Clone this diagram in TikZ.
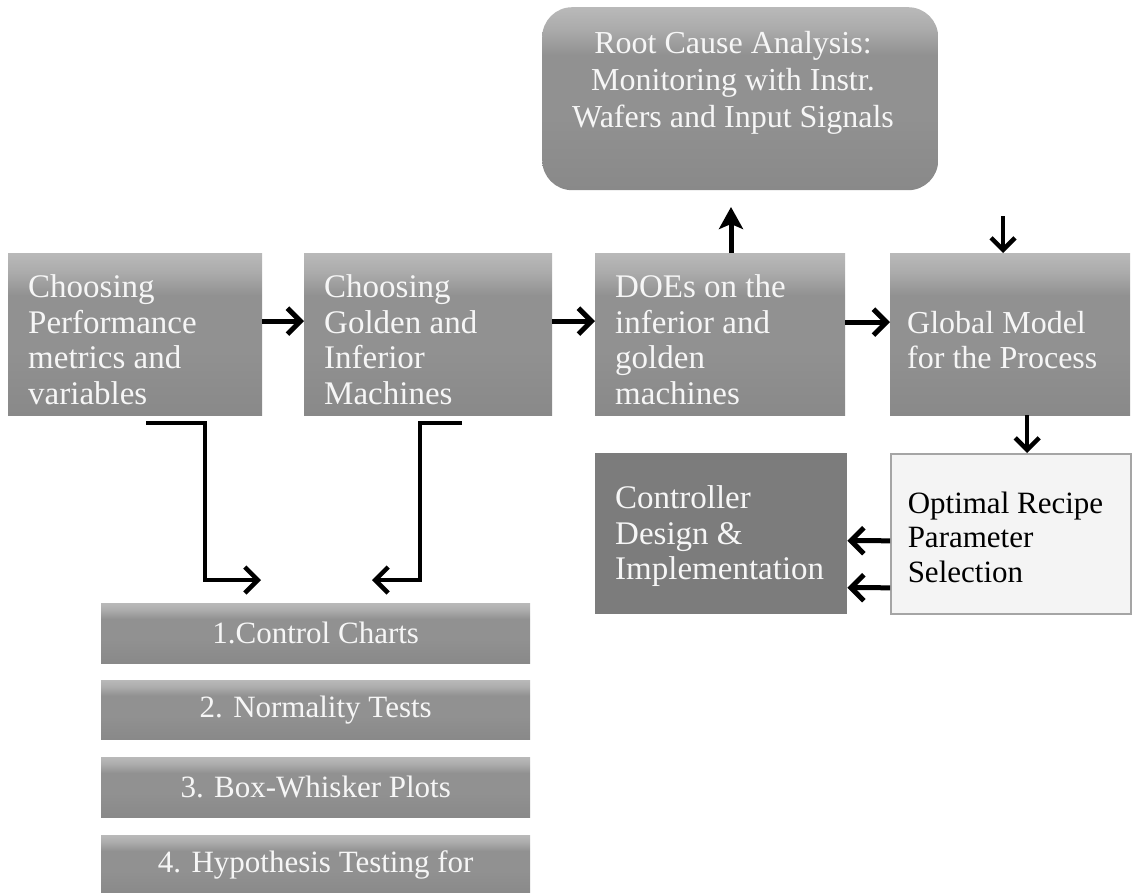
\documentclass[tikz,border=0pt]{standalone}
\usepackage{fontspec}
\setmainfont{Liberation Serif}
\usetikzlibrary{arrows.meta,calc}
\definecolor{gtop}{HTML}{B9B9B9}
\definecolor{gup}{HTML}{ABABAB}
\definecolor{gmid}{HTML}{919191}
\definecolor{gbot}{HTML}{898989}
\definecolor{ctrlc}{HTML}{7C7C7C}
\definecolor{optfill}{HTML}{F4F4F4}
\definecolor{optline}{HTML}{A5A5A5}
\definecolor{txtw}{HTML}{F6F6F6}
\newcommand{\topgapA}{\rule{0pt}{34pt}}
\newcommand{\topgapB}{\rule{0pt}{28pt}}
\pgfdeclareverticalshading{boxshade}{100bp}{color(0bp)=(gbot); color(25bp)=(gbot); color(45bp)=(gmid); color(62bp)=(gmid); color(69bp)=(gup); color(75bp)=(gtop); color(100bp)=(gtop)}
\tikzset{
  basefont/.style={font=\fontsize{33}{35.5}\selectfont},
  plainbox/.style={rectangle, draw=none, text=txtw, basefont,
    align=flush left, inner xsep=20pt, inner ysep=0pt, anchor=north west},
  box/.style={plainbox, shading=boxshade},
  listbox/.style={rectangle, shading=boxshade, draw=none, text=txtw,
    font=\fontsize{31}{35}\selectfont,
    align=center, inner sep=0pt, anchor=north west, minimum width=429pt, minimum height=60pt},
  arr/.style={line width=5pt, -{Straight Barb[length=13pt,width=26pt]}},
  thinarr/.style={line width=4.5pt, -{Straight Barb[length=12pt,width=24pt]}},
  uparr/.style={line width=5pt, -{Stealth[length=22pt,width=24pt,inset=5pt]}},
  elbow/.style={line width=4.5pt, line join=miter, -{Straight Barb[length=13pt,width=26pt]}}
}
\begin{document}
\begin{tikzpicture}[x=1pt,y=-1pt]
\useasboundingbox (0,0) rectangle (1132,892);

% top row
\node[box, minimum width=254pt, minimum height=162pt, text width=214pt] (b1) at (8,253)
  {\topgapA Choosing\\Performance\\metrics and\\variables};
\node[box, minimum width=248pt, minimum height=162pt, text width=208pt] (b2) at (304,253)
  {\topgapA Choosing\\Golden and\\Inferior\\Machines};
\node[box, minimum width=250pt, minimum height=162pt, text width=210pt] (b3) at (595,253)
  {\topgapA DOEs on the\\inferior and\\golden\\machines};
\node[box, font=\fontsize{32}{35.5}\selectfont, minimum width=240pt, minimum height=162pt, text width=206pt, inner xsep=17pt] (b4) at (890,253)
  {\topgapA Global Model\\for the Process};

% root cause box
\node[rectangle, rounded corners=30pt, shading=boxshade, anchor=north west,
  minimum width=396pt, minimum height=183pt, inner sep=0pt] (root) at (542,7) {};
\node[text=txtw, align=center, font=\fontsize{32}{37}\selectfont] (roottext) at (733,83)
  {Root Cause Analysis:\\Monitoring with Instr.\\Wafers and Input Signals};

% second row
\node[plainbox, fill=ctrlc, minimum width=252pt, minimum height=161pt, text width=212pt] (ctrl) at (595,453)
  {\topgapB Controller\\Design \&\\Implementation};
\node[plainbox, fill=optfill, draw=optline, line width=1.5pt, text=black,
  font=\fontsize{31}{34.5}\selectfont,
  minimum width=240pt, minimum height=160pt, text width=206pt, inner xsep=17pt] (opt) at (890,453)
  {\topgapB Optimal Recipe\\Parameter\\Selection};

% list boxes
\node[listbox] (l1) at (101,603) {1.Control Charts};
\node[listbox, minimum height=59pt] (l2) at (101,680) {2. Normality Tests};
\node[listbox] (l3) at (101,757) {3. Box-Whisker Plots};
\node[listbox] (l4) at (101,835) {4. Hypothesis Testing for};

% horizontal arrows
\draw[arr] ([yshift=13pt]b1.east) -- ([yshift=13pt]b2.west);
\draw[arr] ([yshift=13pt]b2.east) -- ([yshift=13pt]b3.west);
\draw[arr] ([yshift=12pt]b3.east) -- ([yshift=12pt]b4.west);

% up arrow to root cause
\coordinate (uptip) at (731,207);
\draw[uparr] (uptip |- b3.north) -- (uptip);

% down arrow into global model
\coordinate (topin) at (1003,216);
\draw[thinarr] (topin) -- (topin |- b4.north);

% global model to optimal
\draw[thinarr] ([xshift=17pt]b4.south) -- ([xshift=17pt]b4.south |- opt.north);

% optimal to controller
\draw[arr] ([yshift=-7pt]opt.west) -- ([yshift=-7pt]ctrl.east);
\draw[arr] ([yshift=-54pt]opt.west) -- ([yshift=-54pt]ctrl.east);

% elbow connectors
\coordinate (e1s) at (146,423);
\coordinate (e1c) at (205,423);
\coordinate (e1t) at (261,580);
\draw[elbow] (e1s) -- (e1c) |- (e1t);
\coordinate (e2s) at (462,423);
\coordinate (e2c) at (420,423);
\coordinate (e2t) at (372,580);
\draw[elbow] (e2s) -- (e2c) |- (e2t);
\end{tikzpicture}
\end{document}
